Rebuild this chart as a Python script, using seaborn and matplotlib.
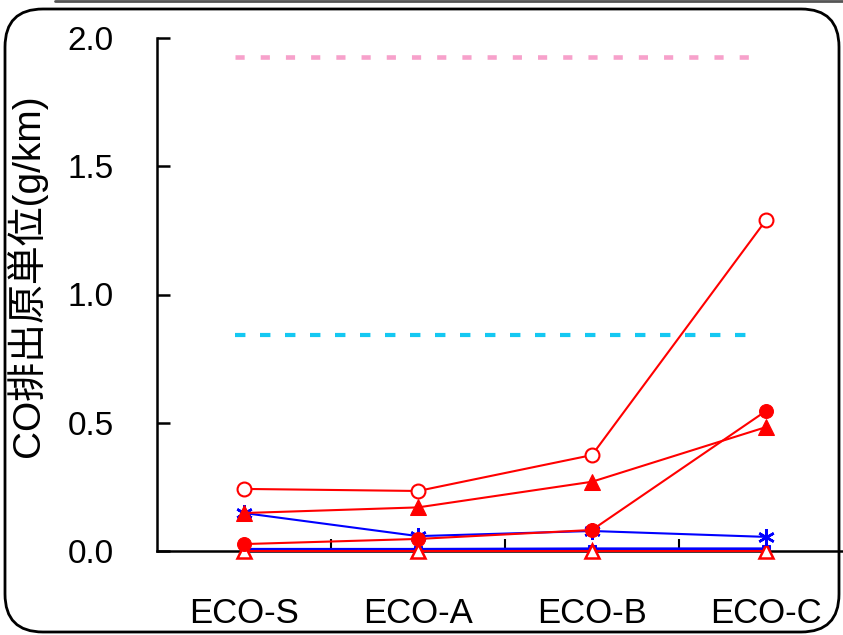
import matplotlib
matplotlib.use("Agg")
import matplotlib.pyplot as plt
from matplotlib.patches import FancyBboxPatch
from matplotlib.lines import Line2D
import seaborn as sns

categories = ["ECO-S", "ECO-A", "ECO-B", "ECO-C"]
open_circle = [0.242, 0.234, 0.374, 1.29]
filled_tri = [0.148, 0.17, 0.27, 0.483]
filled_circle = [0.027, 0.047, 0.082, 0.546]
blue_star = [0.148, 0.058, 0.078, 0.055]
blue_square = [0.004, 0.004, 0.006, 0.006]
open_tri = [0.0, 0.0, 0.0, 0.0]
limit_upper = 1.925
limit_lower = 0.842
yticks = [0.0, 0.5, 1.0, 1.5, 2.0]

sns.set_style("ticks")
plt.rcParams["font.family"] = ["Liberation Sans", "Noto Sans CJK JP", "DejaVu Sans"]
plt.rcParams["text.color"] = "black"
plt.rcParams["axes.labelcolor"] = "black"
plt.rcParams["xtick.color"] = "black"
plt.rcParams["ytick.color"] = "black"

fig = plt.figure(figsize=(8.43, 6.35), dpi=100)
ax = fig.add_axes([157 / 843, 84 / 635, 686 / 843, 513 / 635])

# reference levels (dashed)
ax.plot([-0.05, 2.96], [limit_upper] * 2, color="#F7A1CB", lw=3.3,
        dashes=(2.0, 3.5), solid_capstyle="butt", dash_capstyle="butt")
ax.plot([-0.05, 2.96], [limit_lower] * 2, color="#14C8F2", lw=3.0,
        dashes=(2.5, 3.5), solid_capstyle="butt", dash_capstyle="butt")

x = list(range(len(categories)))
red = "#FF0000"
blue = "#0000FF"
sns.lineplot(x=x, y=blue_square, ax=ax, color=blue, lw=3, marker="s",
             markersize=6, mec=blue, mfc=blue, clip_on=False)
sns.lineplot(x=x, y=open_tri, ax=ax, color=red, lw=1.5, marker="^",
             markersize=10, mfc="white", mec=red, mew=1.8, clip_on=False)
sns.lineplot(x=x, y=blue_star, ax=ax, color=blue, lw=1.5, marker=(6, 2, 0),
             markersize=12, mec=blue, mew=1.8, clip_on=False)
sns.lineplot(x=x, y=filled_circle, ax=ax, color=red, lw=1.5, marker="o",
             markersize=10, mfc=red, mec=red, clip_on=False)
sns.lineplot(x=x, y=filled_tri, ax=ax, color=red, lw=1.5, marker="^",
             markersize=12, mfc=red, mec=red, clip_on=False)
sns.lineplot(x=x, y=open_circle, ax=ax, color=red, lw=1.5, marker="o",
             markersize=10, mfc="white", mec=red, mew=1.5, clip_on=False)

ax.set_xlim(-0.5, 686 / 174 - 0.5)
ax.set_ylim(0, 2.0)
ax.set_yticks(yticks)
ax.set_yticklabels([f"{v:.1f}" for v in yticks])
ax.set_xticks(x)
ax.set_xticklabels(categories)
ax.set_xticks([0.5, 1.5, 2.5], minor=True)
ax.tick_params(axis="x", which="major", length=0, pad=33, labelsize=25)
ax.tick_params(axis="x", which="minor", direction="in", length=9, width=1.5, color="black")
ax.tick_params(axis="y", direction="in", length=9, width=1.8, pad=31, labelsize=24, color="black")
ax.set_ylabel("CO排出原単位(g/km)", fontsize=28)
ax.yaxis.set_label_coords(-0.16, 0.536)

for s in ["top", "right"]:
    ax.spines[s].set_visible(False)
for s in ["left", "bottom"]:
    ax.spines[s].set_linewidth(1.8)
    ax.spines[s].set_color("black")
ax.spines["bottom"].set_zorder(1)

# rounded panel frame
frame = FancyBboxPatch((5 / 843, 3 / 635), 834 / 843, 623 / 635,
                       boxstyle="round,pad=0,rounding_size=0.045",
                       transform=fig.transFigure, fill=False,
                       edgecolor="black", lw=2, mutation_aspect=843 / 635)
fig.patches.append(frame)
fig.add_artist(Line2D([55 / 843, 1.0], [634 / 635, 634 / 635],
                      transform=fig.transFigure, color="#555555", lw=2))

fig.savefig("out.png", dpi=100)
